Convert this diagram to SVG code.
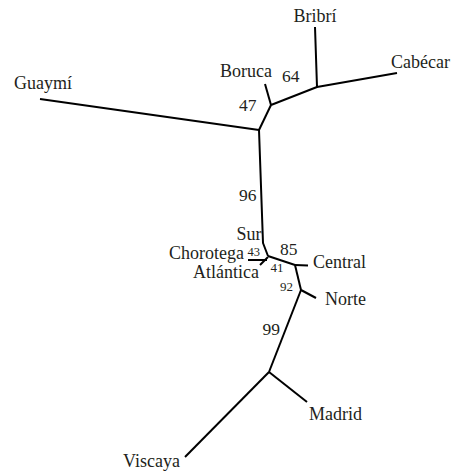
<svg xmlns="http://www.w3.org/2000/svg" width="453" height="472" viewBox="0 0 453 472">
<style>
.e{stroke:#000;stroke-width:2;fill:none;stroke-linecap:butt;stroke-linejoin:round}
text{font-family:"Liberation Serif","Times New Roman",serif;fill:#231f20}
.l{font-size:18px}
.b{font-size:17.5px}
.s{font-size:13px}
</style>
<rect width="453" height="472" fill="#fff"/>
<g id="connectors">
<polyline class="e" points="315,27 317,87 397,73"/>
<line class="e" x1="317" y1="87" x2="271" y2="105"/>
<line class="e" x1="271" y1="105" x2="265" y2="84"/>
<line class="e" x1="271" y1="105" x2="259" y2="130"/>
<line class="e" x1="40" y1="99" x2="259" y2="130"/>
<polyline class="e" points="259,130 263,243 268,256"/>
<line class="e" x1="248" y1="260" x2="267" y2="260"/>
<line class="e" x1="260" y1="265" x2="268" y2="257"/>
<line class="e" x1="268" y1="256" x2="295" y2="265"/>
<line class="e" x1="295" y1="265" x2="308" y2="265.5"/>
<line class="e" x1="295" y1="265" x2="301" y2="290"/>
<line class="e" x1="301" y1="290" x2="316" y2="298"/>
<line class="e" x1="301" y1="290" x2="269" y2="372"/>
<line class="e" x1="269" y1="372" x2="307" y2="402"/>
<line class="e" x1="269" y1="372" x2="185" y2="457"/>
<text class="b" x="282" y="82">64</text>
<text class="b" x="239" y="111">47</text>
<text class="b" x="239" y="201">96</text>
<text x="247.5" y="255.5" font-size="12.5">43</text>
<text class="b" x="280" y="255">85</text>
<text class="s" x="270.5" y="272">41</text>
<text class="s" x="280" y="291">92</text>
<text class="b" x="262.5" y="335">99</text>
</g>
<g id="Bribri"><text class="l" x="315" y="22" text-anchor="middle">Bribrí</text></g>
<g id="Cabecar"><text class="l" x="391" y="68">Cabécar</text></g>
<g id="Boruca"><text class="l" x="272" y="77" text-anchor="end">Boruca</text></g>
<g id="Guaymi"><text class="l" x="14" y="89">Guaymí</text></g>
<g id="Sur"><text class="l" x="261.5" y="240" text-anchor="end">Sur</text></g>
<g id="Chorotega"><text class="l" x="244" y="259" text-anchor="end">Chorotega</text></g>
<g id="Atlantica"><text class="l" x="259" y="278" text-anchor="end">Atlántica</text></g>
<g id="Central"><text class="l" x="313" y="268">Central</text></g>
<g id="Norte"><text class="l" x="325" y="305">Norte</text></g>
<g id="Madrid"><text class="l" x="309" y="420">Madrid</text></g>
<g id="Viscaya"><text class="l" x="180" y="467" text-anchor="end">Viscaya</text></g>
</svg>
